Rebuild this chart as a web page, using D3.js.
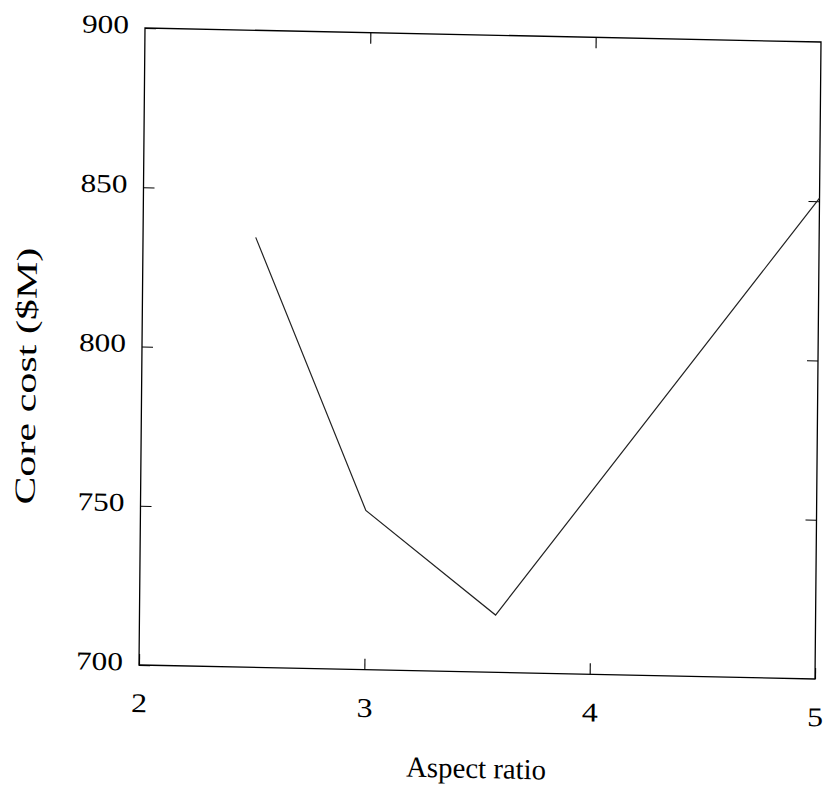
<!DOCTYPE html>
<html lang="en">
<head>
<meta charset="UTF-8">
<title>Core cost vs aspect ratio</title>
<script src="https://d3js.org/d3.v7.min.js"></script>
<style>
    body { margin: 0; background: #fff; }
    #canvas { display: block; }
    .axis text { font-family: "Liberation Serif", "DejaVu Serif", serif; fill: #000; }
    .axis line { stroke: #000; stroke-width: 1.1; }
    .axis path { display: none; }
    .label { font-family: "Liberation Serif", "DejaVu Serif", serif; fill: #000; }
</style>
</head>
<body>
<svg id="canvas" width="836" height="792"></svg>
<script>
// values
let aspect = [2.5, 3, 3.58, 5];
let cost = [835, 750, 718, 851];
let xTicks = [2, 3, 4, 5];
let yTicks = [700, 750, 800, 850, 900];

const W = 676, H = 637;

let svg = d3.select('#canvas');

// the scan is slightly tilted, so the whole plot sits in a skewed group
let plot = svg.append('g')
    .attr('transform', 'matrix(1,' + (14 / 676) + ',' + (-6 / 637) + ',1,145,28)');

let x = d3.scaleLinear().domain([2, 5]).range([0, W]);
let y = d3.scaleLinear().domain([700, 900]).range([H, 0]);

// bottom axis with labels
let xAxis = plot.append('g')
    .attr('class', 'axis')
    .attr('transform', 'translate(0,' + H + ')')
    .call(d3.axisBottom(x).tickValues(xTicks).tickSize(-11).tickPadding(28).tickFormat(d3.format('d')));
xAxis.selectAll('text')
    .style('font-size', '27px')
    .attr('textLength', 16)
    .attr('lengthAdjust', 'spacingAndGlyphs');

// top ticks only
plot.append('g')
    .attr('class', 'axis')
    .call(d3.axisTop(x).tickValues([3, 4]).tickSize(-11).tickFormat(''));

// left axis with labels
let yAxis = plot.append('g')
    .attr('class', 'axis')
    .call(d3.axisLeft(y).tickValues(yTicks).tickSize(-11).tickPadding(16).tickFormat(d3.format('d')));
yAxis.selectAll('text')
    .style('font-size', '26px')
    .attr('dy', '0.2em')
    .attr('textLength', 47)
    .attr('lengthAdjust', 'spacingAndGlyphs');

// right ticks only
plot.append('g')
    .attr('class', 'axis')
    .attr('transform', 'translate(' + W + ',0)')
    .call(d3.axisRight(y).tickValues([750, 800, 850]).tickSize(-11).tickFormat(''));

// frame
plot.append('rect')
    .attr('x', 0).attr('y', 0)
    .attr('width', W).attr('height', H)
    .attr('fill', 'none')
    .attr('stroke', '#000')
    .attr('stroke-width', 1.3);

// data line
let line = d3.line()
    .x(function (d, i) { return x(aspect[i]); })
    .y(function (d) { return y(d); });

plot.append('path')
    .datum(cost)
    .attr('d', line)
    .attr('fill', 'none')
    .attr('stroke', '#222')
    .attr('stroke-width', 1.2);

// axis titles
plot.append('text')
    .attr('class', 'label')
    .attr('x', W / 2)
    .attr('y', H + 106)
    .attr('text-anchor', 'middle')
    .style('font-size', '29px')
    .attr('textLength', 140)
    .attr('lengthAdjust', 'spacingAndGlyphs')
    .text('Aspect ratio');

plot.append('text')
    .attr('class', 'label')
    .attr('transform', 'translate(-106,' + (H / 2 + 32) + ') rotate(-90)')
    .attr('text-anchor', 'middle')
    .style('font-size', '29px')
    .attr('textLength', 257)
    .attr('lengthAdjust', 'spacingAndGlyphs')
    .text('Core cost ($M)');
</script>
</body>
</html>
